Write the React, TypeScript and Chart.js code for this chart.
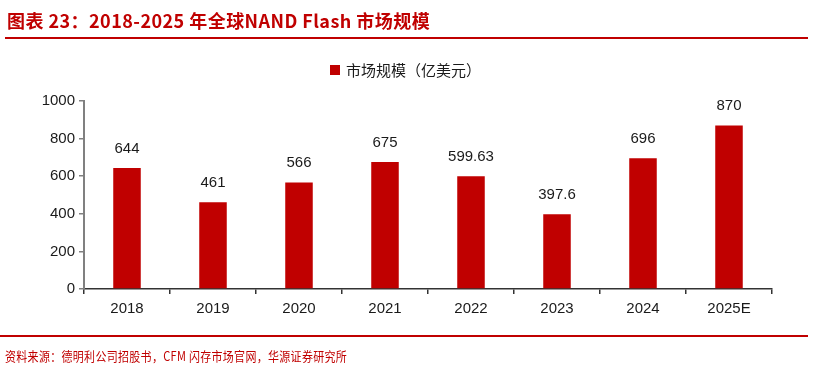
import React, { useEffect, useRef } from "react";
import { Chart, registerables } from "chart.js";

Chart.register(...registerables);

const categories = ["2018", "2019", "2020", "2021", "2022", "2023", "2024", "2025E"];
const marketSize = [644, 461, 566, 675, 599.63, 397.6, 696, 870];
const valueLabels = ["644", "461", "566", "675", "599.63", "397.6", "696", "870"];
const seriesName = "市场规模（亿美元）";
const yTicks = [0, 200, 400, 600, 800, 1000];
const titleText = "图表 23：2018-2025 年全球NAND Flash 市场规模";
const sourceText = "资料来源：德明利公司招股书，CFM 闪存市场官网，华源证券研究所";

const RED = "#C00000";

const labelPlugin = {
  id: "barLabels",
  afterDatasetsDraw(chart: any) {
    const ctx = chart.ctx;
    const meta = chart.getDatasetMeta(0);
    ctx.save();
    ctx.font = "15px 'Liberation Sans', Arial, sans-serif";
    ctx.fillStyle = "#1a1a1a";
    ctx.textAlign = "center";
    ctx.textBaseline = "bottom";
    meta.data.forEach((bar: any, i: number) => {
      ctx.fillText(valueLabels[i], bar.x, bar.y - 12);
    });
    ctx.restore();
  },
};

export default function App() {
  const ref = useRef<HTMLCanvasElement | null>(null);
  useEffect(() => {
    if (!ref.current) return;
    const chart = new Chart(ref.current, {
      type: "bar",
      data: {
        labels: categories,
        datasets: [
          {
            label: seriesName,
            data: marketSize,
            backgroundColor: RED,
            barPercentage: 0.32,
            categoryPercentage: 1,
          },
        ],
      },
      options: {
        animation: false,
        responsive: false,
        maintainAspectRatio: false,
        layout: { padding: { top: 101, right: 43, bottom: 50, left: 0 } },
        plugins: {
          legend: { display: false },
          tooltip: { enabled: false },
        },
        scales: {
          x: {
            afterFit: (s: any) => {
              s.height = 30;
            },
            border: { color: "#333", width: 1.5 },
            grid: {
              offset: true,
              drawOnChartArea: false,
              drawTicks: true,
              tickLength: 5,
              color: "#333",
              lineWidth: 1.5,
            },
            ticks: {
              color: "#1a1a1a",
              padding: 6,
              font: { family: "'Liberation Sans', Arial, sans-serif", size: 15 },
            },
          },
          y: {
            min: 0,
            max: 1000,
            afterFit: (s: any) => {
              s.width = 84;
            },
            afterBuildTicks: (s: any) => {
              s.ticks = yTicks.map((v) => ({ value: v }));
            },
            border: { color: "#808080", width: 2 },
            grid: {
              drawOnChartArea: false,
              drawTicks: true,
              tickLength: 5,
              color: "#808080",
              lineWidth: 1.5,
            },
            ticks: {
              color: "#1a1a1a",
              padding: 4,
              callback: (v: any) => String(v),
              font: { family: "'Liberation Sans', Arial, sans-serif", size: 15 },
            },
          },
        },
      },
      plugins: [labelPlugin],
    });
    return () => chart.destroy();
  }, []);

  return (
    <div style={{ position: "fixed", left: 0, top: 0, width: 815, height: 369, background: "#fff", overflow: "hidden" }}>
      <canvas ref={ref} width={815} height={369} style={{ position: "absolute", left: 0, top: 0, width: 815, height: 369 }} />
      <div
        style={{
          position: "absolute",
          left: 7,
          top: 8,
          fontFamily: "'Noto Sans CJK SC', sans-serif",
          fontWeight: 700,
          fontSize: 18,
          letterSpacing: "0.45px",
          lineHeight: "24px",
          color: RED,
          whiteSpace: "nowrap",
        }}
      >
        {titleText}
      </div>
      <div style={{ position: "absolute", left: 5, top: 37, width: 803, height: 2, background: RED }} />
      <div
        style={{
          position: "absolute",
          left: 330,
          top: 59,
          display: "flex",
          alignItems: "center",
          fontFamily: "'Noto Sans CJK SC', sans-serif",
          fontSize: 15,
          color: "#1a1a1a",
          whiteSpace: "nowrap",
        }}
      >
        <span style={{ display: "inline-block", width: 10, height: 10, background: RED, marginRight: 6 }} />
        <span>{seriesName}</span>
      </div>
      <div style={{ position: "absolute", left: 0, top: 335, width: 808, height: 2, background: RED }} />
      <div
        style={{
          position: "absolute",
          left: 5,
          top: 346,
          fontFamily: "'Noto Sans CJK SC', sans-serif",
          fontSize: 11,
          letterSpacing: "0.3px",
          lineHeight: "16px",
          color: RED,
          whiteSpace: "nowrap",
          transform: "scale(1, 1.15)",
          transformOrigin: "left top",
        }}
      >
        {sourceText}
      </div>
    </div>
  );
}
